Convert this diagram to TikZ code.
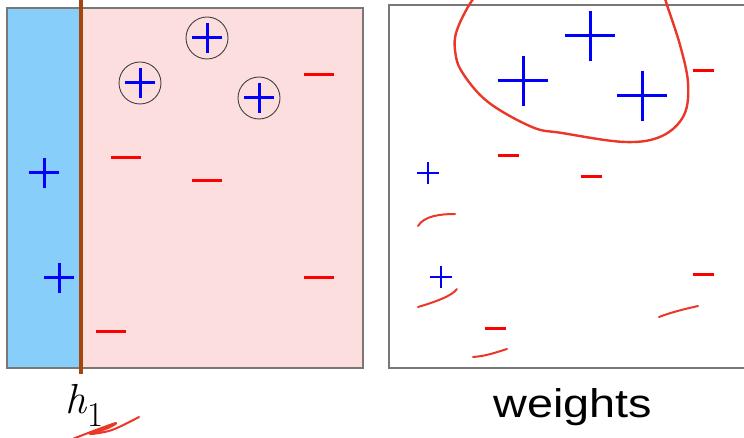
\documentclass[tikz,border=0pt]{standalone}
\usepackage{fontspec}
\newfontfamily\wfont{Liberation Sans}
\definecolor{skyb}{RGB}{135,206,250}
\definecolor{pinkf}{RGB}{253,222,222}
\definecolor{framegray}{RGB}{120,120,120}
\definecolor{hbrown}{RGB}{165,70,15}
\definecolor{penred}{RGB}{235,55,40}
\begin{document}
\begin{tikzpicture}[x=1pt,y=-1pt,
  frame/.style={draw=framegray,line width=1.2pt},
  bigplus/.style={draw=blue,line width=3pt},
  smallplus/.style={draw=blue,line width=2.6pt},
  minus/.style={draw=red,line width=3pt},
  ring/.style={draw=black!75,line width=0.9pt},
  pen/.style={draw=penred,line width=2.4pt,line cap=round,line join=round}]
\useasboundingbox (0,0) rectangle (744,438);
% left panel
\fill[skyb] (7,8) rectangle (81,368);
\fill[pinkf] (81,8) rectangle (363,368);
\draw[frame] (7,8) rectangle (363,368);
\draw[draw=hbrown,line width=3.2pt] (81,0) -- (81,374);
% circled pluses
\foreach \x/\y in {207/38,140/83,259/98}{
  \draw[ring] (\x,\y) circle (21);
  \draw[bigplus] (\x-15,\y) -- (\x+15,\y) (\x,\y-15) -- (\x,\y+15);
}
\foreach \x/\y in {44/173,59/278}{
  \draw[bigplus] (\x-15,\y) -- (\x+15,\y) (\x,\y-15) -- (\x,\y+15);
}
\foreach \x/\y in {319/75,126/158,207/181,319/278,111/331}{
  \draw[minus] (\x-15,\y) -- (\x+15,\y);
}
% h1 label
\node[anchor=base west,inner sep=0pt,font=\fontsize{42}{42}\selectfont\itshape] (hlab) at (65,413) {h};
\node[anchor=base west,inner sep=0pt,font=\fontsize{35}{35}\selectfont] (hsub) at (87,426) {1};
\draw[pen,line width=2pt] plot[smooth,tension=0.6] coordinates {(70,440) (96,430) (116,423) (108,428) (90,434) (112,430) (139,417)};
% right panel
\draw[frame] (760,5) -- (389,5) -- (389,368) -- (760,368);
\foreach \x/\y in {590/36,523/81,642/96}{
  \draw[bigplus] (\x-25,\y) -- (\x+25,\y) (\x,\y-25) -- (\x,\y+25);
}
\foreach \x/\y in {428/173,441/277}{
  \draw[smallplus] (\x-11,\y) -- (\x+11,\y) (\x,\y-11) -- (\x,\y+11);
}
\foreach \x/\y in {703/71,508/156,591/177,703/275,495/328}{
  \draw[minus] (\x-10.5,\y) -- (\x+10.5,\y);
}
\begin{scope}
\clip (380,0) rectangle (744,200);
\draw[pen] plot[smooth,tension=0.6] coordinates {(486,-14) (471,2) (457,30) (455,50) (462,72) (488,102) (532,127) (562,133) (625,142) (662,136) (684,115) (688,83) (680,45) (667,5) (662,-12)};
\end{scope}
\draw[pen,line width=2pt] (418,226) .. controls (424,216) and (440,214) .. (455,214);
\draw[pen,line width=2pt] (418,307) .. controls (435,302) and (452,296) .. (457,289);
\draw[pen,line width=2pt] (473,357) .. controls (487,356) and (497,352) .. (507,349);
\draw[pen,line width=2pt] (659,317) .. controls (672,312) and (685,309) .. (698,306);
\node[anchor=base,inner sep=0pt,xscale=1.17,font=\wfont\fontsize{40}{40}\selectfont] (wlab) at (573,417) {weights};
\end{tikzpicture}
\end{document}
